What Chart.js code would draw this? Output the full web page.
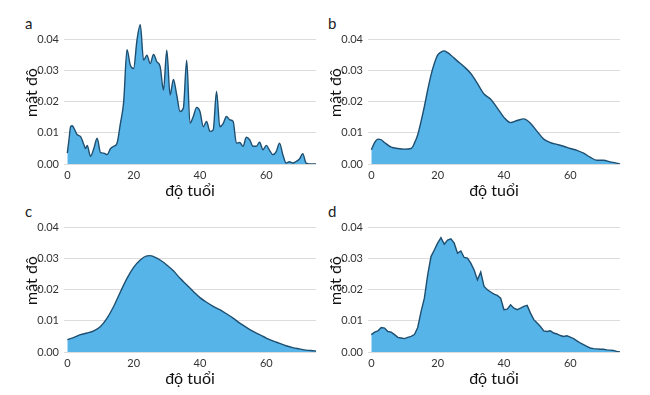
<!DOCTYPE html>
<html><head><meta charset="utf-8">
<script src="https://cdn.jsdelivr.net/npm/chart.js@4/dist/chart.umd.min.js"></script>
<style>
body{margin:0;background:#fff;width:650px;height:395px;position:relative;overflow:hidden;font-family:Lato,"Noto Sans",sans-serif}
canvas{position:absolute}
.lab{position:absolute;font-size:15px;line-height:18px;color:#222}
</style></head><body>
<div class="lab" style="left:25px;top:14px">a</div>
<div class="lab" style="left:328px;top:14px">b</div>
<div class="lab" style="left:25px;top:202px">c</div>
<div class="lab" style="left:328px;top:202px">d</div>
<canvas id="ca" width="295" height="200" style="left:21px;top:0px"></canvas>
<canvas id="cb" width="295" height="200" style="left:325px;top:0px"></canvas>
<canvas id="cc" width="295" height="200" style="left:21px;top:188px"></canvas>
<canvas id="cd" width="295" height="200" style="left:325px;top:188px"></canvas>
<script>
// ---- data ----
const xTicks = [0, 20, 40, 60];
const yTicks = [0, 0.01, 0.02, 0.03, 0.04];
const xTitle = 'độ tuổi';
const yTitle = 'mật độ';

// panel a: narrow bandwidth density
const ageA = [0,0.5,1,1.5,2,3,4,5,5.5,6,7,8,9,10,11,12,13,14,15,16,17,18,19,20,21,22,23,24,25,26,27,28,29,30,31,32,33,34,35,36,37,38,39,40,41,42,43,44,45,46,47,48,49,50,51,52,53,54,55,56,57,58,59,60,61,62,63,64,65,66,67,68,69,70,71,72,73,74,75];
const densA = [0.0035,0.0078,0.012,0.0123,0.0115,0.0094,0.0088,0.0062,0.005,0.006,0.0025,0.005,0.0083,0.0037,0.0035,0.003,0.0049,0.0057,0.0067,0.013,0.02,0.0368,0.0318,0.0307,0.0398,0.0448,0.0334,0.035,0.0323,0.0352,0.0329,0.0313,0.0238,0.0366,0.0222,0.0272,0.0222,0.0169,0.018,0.0334,0.0131,0.0153,0.0182,0.0169,0.012,0.0137,0.0105,0.011,0.0233,0.012,0.013,0.0153,0.0142,0.0137,0.0067,0.0069,0.0057,0.0086,0.0078,0.0057,0.0057,0.007,0.0046,0.006,0.0044,0.003,0.004,0.0067,0.003,0.0003,0.0007,0.0003,0.0008,0.0016,0.0033,0.0003,0,0,0];

// panel b: medium bandwidth density
const ageB = [0,1,2,3,4,6,8,10,12,13,14,15,16,17,18,19,20,21,22,23,24,26,28,30,32,34,36,38,40,42,44,46,48,50,52,54,56,58,60,62,64,66,68,70,72,74,75];
const densB = [0.0046,0.0069,0.008,0.0078,0.0069,0.0054,0.005,0.0048,0.005,0.0067,0.0094,0.0137,0.0185,0.0238,0.0286,0.0323,0.035,0.036,0.0364,0.0358,0.035,0.0331,0.0313,0.0291,0.0259,0.0225,0.0208,0.018,0.015,0.0133,0.014,0.0145,0.0131,0.0105,0.008,0.0069,0.0063,0.0057,0.005,0.0044,0.0035,0.0022,0.0012,0.0012,0.0007,0.0003,0];

// panel c: wide bandwidth density
const ageC = [0,2,4,6,8,10,12,14,16,18,20,22,24,25,26,28,30,32,34,36,38,40,42,44,46,48,50,52,54,56,58,60,62,64,66,68,70,72,74,75];
const densC = [0.004,0.0047,0.0056,0.0061,0.0068,0.0082,0.0109,0.0147,0.0193,0.0237,0.0272,0.0296,0.0309,0.031,0.0307,0.0296,0.028,0.0261,0.0237,0.0216,0.0195,0.0175,0.016,0.0147,0.0136,0.0123,0.0109,0.0093,0.0079,0.0066,0.0056,0.0045,0.0036,0.0028,0.002,0.0014,0.001,0.0006,0.0004,0.0003];

// panel d: rectangular kernel density
const ageD = [0,1,2,3,4,5,6,7,8,9,10,11,12,13,14,15,16,17,18,19,20,21,22,23,24,25,26,27,28,29,30,31,32,33,34,35,36,37,38,39,40,41,42,43,44,45,46,47,48,49,50,51,52,53,54,55,56,57,58,59,60,61,62,63,64,65,66,67,68,69,70,71,72,73,74,75];
const densD = [0.0056,0.0064,0.0068,0.0079,0.0077,0.0066,0.0064,0.0056,0.0047,0.0045,0.0043,0.0047,0.005,0.0056,0.0079,0.013,0.0173,0.0248,0.0307,0.0328,0.035,0.0368,0.0347,0.036,0.0364,0.035,0.0318,0.0325,0.0304,0.0302,0.0286,0.0264,0.0232,0.0257,0.0211,0.02,0.0193,0.0186,0.0182,0.0173,0.0136,0.0138,0.0152,0.0141,0.0136,0.0141,0.0147,0.015,0.0125,0.0104,0.0093,0.0082,0.0068,0.0066,0.0068,0.0061,0.0058,0.0053,0.005,0.0052,0.0048,0.0043,0.0036,0.0029,0.0024,0.0018,0.0013,0.0011,0.001,0.0009,0.0009,0.0007,0.0006,0.0005,0.0002,0];

// ---- styling ----
const FILL = '#56B4E9';
const LINE = '#1f4f70';
const TICK = '#333333';
const FONT = 'Lato, "Noto Sans", sans-serif';

function makeChart(id, xs, ys, jagged) {
  const pts = xs.map((x, i) => ({x: x, y: ys[i]}));
  const ds = {
    data: pts, fill: 'origin', backgroundColor: FILL, borderColor: LINE,
    borderWidth: 1.4, pointRadius: 0
  };
  if (jagged) ds.tension = 0; else ds.cubicInterpolationMode = 'monotone';
  new Chart(document.getElementById(id), {
    type: 'line',
    data: {datasets: [ds]},
    options: {
      responsive: false, animation: false, events: [],
      layout: {padding: {top: 21, right: 0, left: 0, bottom: 0}},
      plugins: {legend: {display: false}, tooltip: {enabled: false}},
      scales: {
        x: {
          type: 'linear', min: -1, max: 75,
          afterBuildTicks: ax => { ax.ticks = xTicks.map(v => ({value: v})); },
          afterFit: ax => { ax.height = 36; },
          grid: {display: false, drawTicks: false},
          border: {display: false},
          ticks: {padding: 5, color: TICK, font: {family: FONT, size: 11}, maxRotation: 0, callback: v => String(v)},
          title: {display: true, text: xTitle, color: '#111', font: {family: FONT, size: 16}, padding: 0}
        },
        y: {
          type: 'linear', min: 0, max: 0.046,
          afterBuildTicks: ax => { ax.ticks = yTicks.map(v => ({value: v})); },
          afterFit: ax => { ax.width = 43; },
          grid: {color: '#dcdcdc', lineWidth: 1, drawTicks: false},
          border: {display: false},
          ticks: {padding: 5, color: TICK, font: {family: FONT, size: 11}, callback: v => v.toFixed(2)},
          title: {display: true, text: yTitle, color: '#111', font: {family: FONT, size: 16}, padding: {top: 1, bottom: 0}}
        }
      }
    }
  });
}
makeChart('ca', ageA, densA, false);
makeChart('cb', ageB, densB, false);
makeChart('cc', ageC, densC, false);
makeChart('cd', ageD, densD, true);
</script>
</body></html>
